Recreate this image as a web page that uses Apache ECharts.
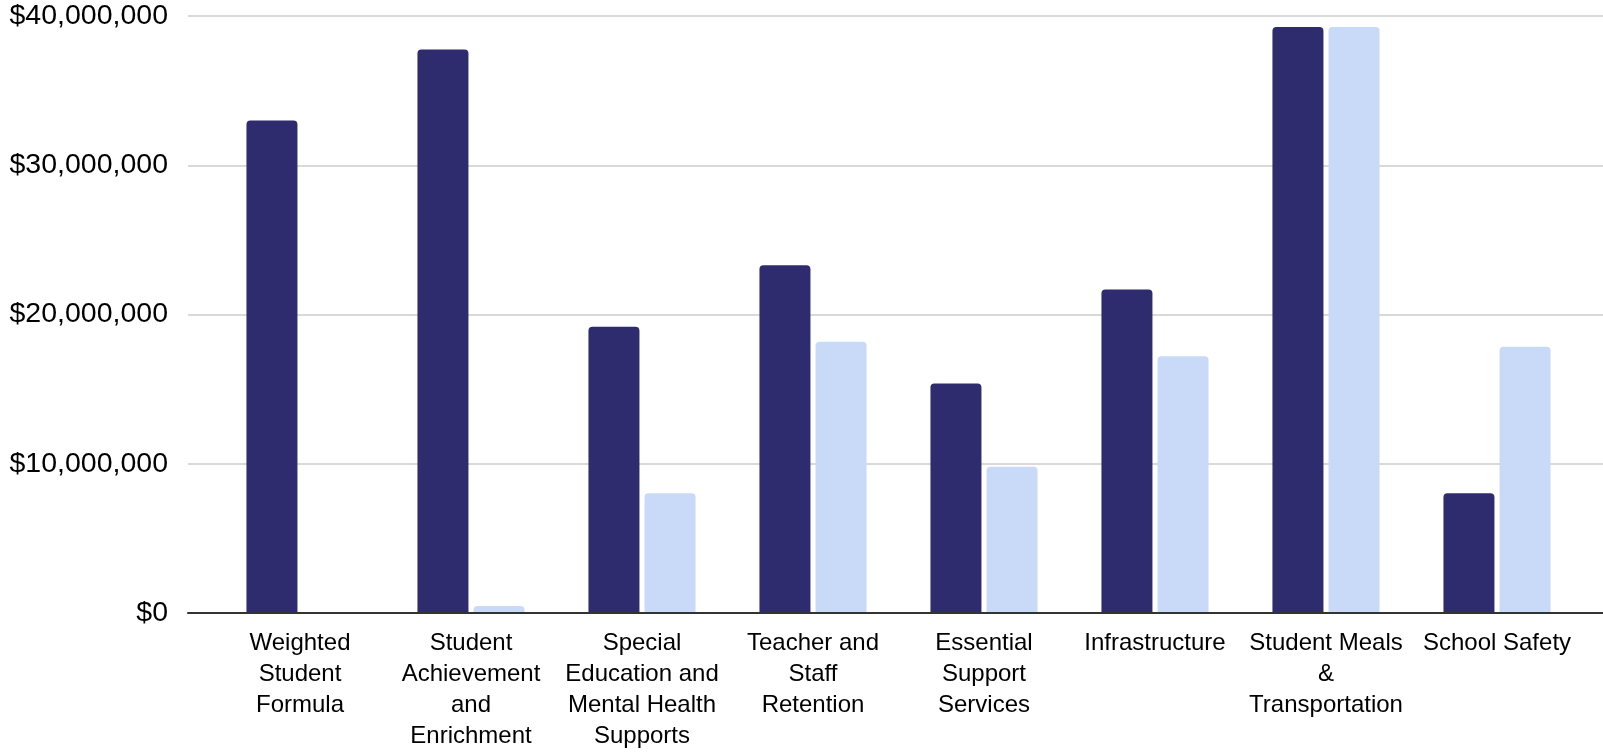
<!DOCTYPE html>
<html>
<head>
<meta charset="utf-8">
<script src="https://cdn.jsdelivr.net/npm/echarts@6/dist/echarts.min.js"></script>
<style>
  html, body { margin: 0; padding: 0; background: #fff; }
  #chart { width: 1603px; height: 752px; }
</style>
</head>
<body>
<div id="chart"></div>
<script>
// Tick labels (category names with the line breaks shown in the reference)
const categories = [
  'Weighted\nStudent\nFormula',
  'Student\nAchievement\nand\nEnrichment',
  'Special\nEducation and\nMental Health\nSupports',
  'Teacher and\nStaff\nRetention',
  'Essential\nSupport\nServices',
  'Infrastructure',
  'Student Meals\n&\nTransportation',
  'School Safety'
];
// Series values (dollars)
const seriesDark = [33000000, 37750000, 19180000, 23300000, 15380000, 21680000, 39270000, 8020000];
const seriesLight = [0, 470000, 8020000, 18170000, 9800000, 17210000, 39270000, 17840000];
// Y axis ticks
const yMin = 0, yMax = 40000000, yStep = 10000000;

const FONT = "'Liberation Sans', Arial, sans-serif";
const chart = echarts.init(document.getElementById('chart'), null, { renderer: 'canvas' });

chart.setOption({
  animation: false,
  backgroundColor: '#ffffff',
  grid: [
    { left: 188, right: 0, top: 16, bottom: 139 },
    { left: 214.5, right: 20.5, top: 16, bottom: 139 }
  ],
  xAxis: [
    {
      gridIndex: 0, type: 'category', data: [''],
      axisLine: { show: true, lineStyle: { color: '#333333', width: 2 } },
      axisTick: { show: false }, axisLabel: { show: false }, z: 10
    },
    {
      gridIndex: 1, type: 'category', data: categories,
      axisLine: { show: false }, axisTick: { show: false },
      axisLabel: {
        interval: 0, margin: 15, fontFamily: FONT, fontSize: 24,
        lineHeight: 31, color: '#000000', align: 'center'
      }
    }
  ],
  yAxis: [
    {
      gridIndex: 0, type: 'value', min: yMin, max: yMax, interval: yStep,
      axisLine: { show: false }, axisTick: { show: false },
      axisLabel: {
        margin: 20, fontFamily: FONT, fontSize: 28.5, color: '#000000',
        formatter: v => '$' + Number(v).toLocaleString('en-US')
      },
      splitLine: { show: true, lineStyle: { color: '#cccccc', width: 1.5 } }
    },
    {
      gridIndex: 1, type: 'value', min: yMin, max: yMax, interval: yStep,
      show: false, splitLine: { show: false }
    }
  ],
  series: [
    {
      name: 'Series 1', type: 'bar', xAxisIndex: 1, yAxisIndex: 1,
      data: seriesDark, barWidth: 51, barGap: '10%',
      itemStyle: { color: '#2f2b6f', borderRadius: [4, 4, 0, 0] }
    },
    {
      name: 'Series 2', type: 'bar', xAxisIndex: 1, yAxisIndex: 1,
      data: seriesLight, barWidth: 51, barGap: '10%',
      itemStyle: { color: '#c9daf8', borderRadius: [4, 4, 0, 0] }
    }
  ]
});
</script>
</body>
</html>
